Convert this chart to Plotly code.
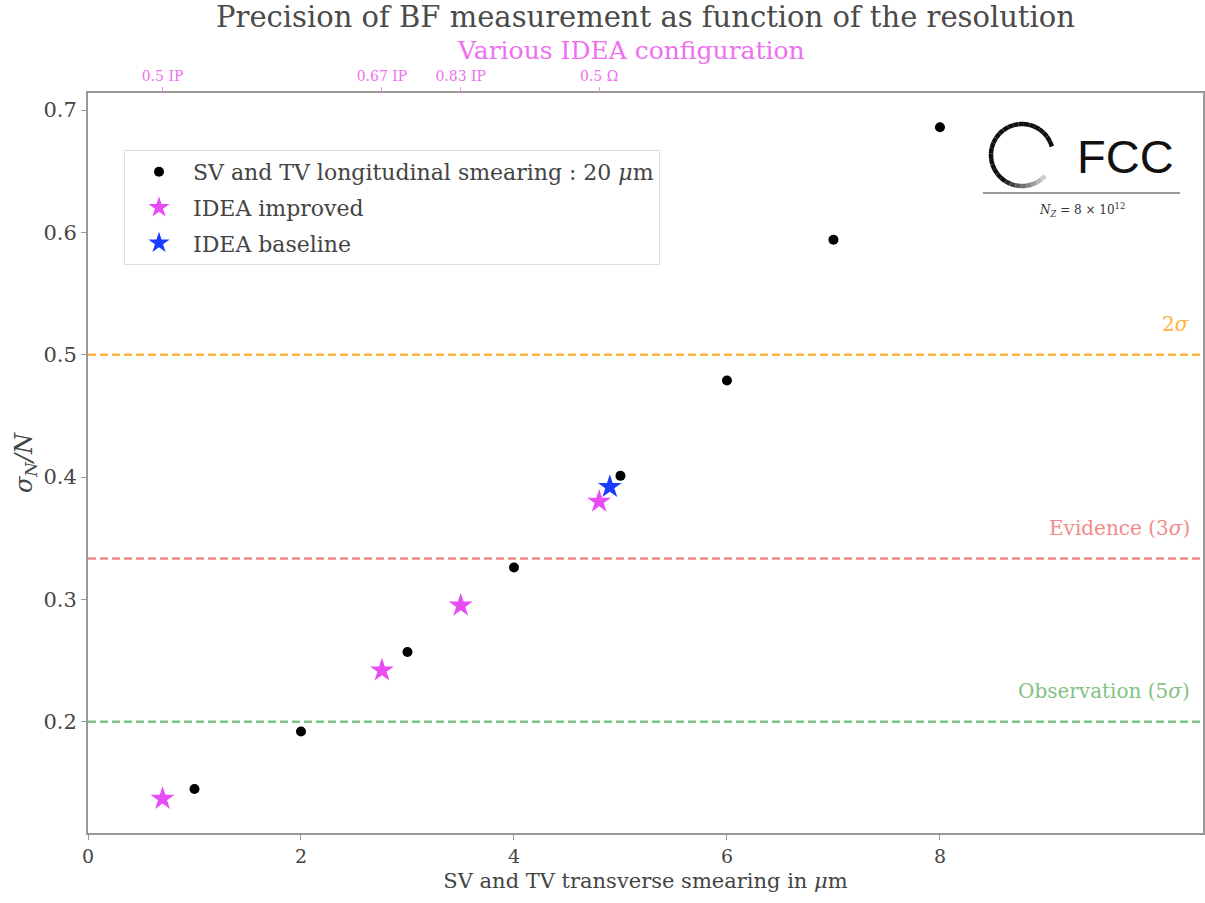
import math
import plotly.graph_objects as go

# ---------------- data ----------------
smear_x = [1, 2, 3, 4, 5, 6, 7, 8]
smear_y = [0.145, 0.192, 0.257, 0.326, 0.401, 0.479, 0.594, 0.686]

improved_x = [0.70, 2.76, 3.50, 4.80]
improved_y = [0.137, 0.242, 0.295, 0.380]

baseline_x = [4.90]
baseline_y = [0.392]

config_x = [0.70, 2.76, 3.50, 4.80]
config_labels = ["0.5 IP", "0.67 IP", "0.83 IP", "0.5 Ω"]

x_ticks = [0, 2, 4, 6, 8]
y_ticks = [0.2, 0.3, 0.4, 0.5, 0.6, 0.7]

thresholds = [0.5, 1 / 3, 0.2]
threshold_labels = ["2<i>σ</i>", "Evidence (3<i>σ</i>)", "Observation (5<i>σ</i>)"]
threshold_colors = ["#ffb340", "#f38a8a", "#82c282"]

# ---------------- layout geometry ----------------
W, H = 1205, 903
ML, MR, MT, MB = 88, 2, 93, 70
PW, PH = W - ML - MR, H - MT - MB

SERIF = "DejaVu Serif"
TXT = "#444"


def px2paper(px, py):
    return (px - ML) / PW, 1 - (py - MT) / PH


fig = go.Figure()

fig.add_trace(go.Scatter(
    x=smear_x, y=smear_y, mode="markers",
    marker=dict(color="black", size=10),
    name="SV and TV longitudinal smearing : 20 <i>μ</i>m",
    legendgroup="a",
))
fig.add_trace(go.Scatter(
    x=improved_x, y=improved_y, mode="markers",
    marker=dict(color="#e84cf5", size=18, symbol="star", line=dict(width=0)),
    name="IDEA improved", legendgroup="b",
))
fig.add_trace(go.Scatter(
    x=baseline_x, y=baseline_y, mode="markers",
    marker=dict(color="#1a3cff", size=18, symbol="star", line=dict(width=0)),
    name="IDEA baseline", legendgroup="c",
))
# invisible helper trace so the top axis is rendered
fig.add_trace(go.Scatter(
    x=config_x, y=improved_y, xaxis="x2", mode="markers",
    marker=dict(opacity=0), showlegend=False, hoverinfo="skip",
))

# threshold lines + labels
for val, lab, col in zip(thresholds, threshold_labels, threshold_colors):
    fig.add_shape(type="line", xref="paper", x0=0, x1=1, yref="y", y0=val, y1=val,
                  line=dict(color=col, width=2.5, dash="8px,4px"))
    fig.add_annotation(xref="paper", x=0.99, yref="y", y=val, text=lab,
                       showarrow=False, xanchor="right", yanchor="middle", yshift=31,
                       font=dict(family=SERIF, size=20, color=col))

# ---------------- FCC logo ----------------
cx, cy, r = 1022, 155, 31
a_start, a_end = 16, 318
n = 90
pts = []
for i in range(n + 1):
    a = math.radians(a_start + (a_end - a_start) * i / n)
    pts.append((cx + r * math.cos(a), cy - r * math.sin(a)))
nseg = 30
per = n // nseg
for s in range(nseg):
    seg = pts[s * per:(s + 1) * per + 1]
    frac = s / (nseg - 1)
    if frac < 0.72:
        col = "rgb(15,15,15)"
    else:
        t = (frac - 0.72) / 0.28
        g = int(15 + t * 190)
        col = f"rgb({g},{g},{g})"
    path = ""
    for j, (x, y) in enumerate(seg):
        xp, yp = px2paper(x, y)
        path += ("M" if j == 0 else "L") + f"{xp:.5f},{yp:.5f}"
    fig.add_shape(type="path", xref="paper", yref="paper", path=path,
                  line=dict(color=col, width=4.5))

xa, ya = px2paper(1075, 156)
fig.add_annotation(xref="paper", yref="paper", x=xa, y=ya, text="FCC", showarrow=False,
                   xanchor="left", yanchor="middle",
                   font=dict(family="Liberation Sans", size=47, color="#111"))
x0p, y0p = px2paper(983, 193)
x1p, _ = px2paper(1180, 193)
fig.add_shape(type="line", xref="paper", yref="paper", x0=x0p, x1=x1p, y0=y0p, y1=y0p,
              line=dict(color="#777", width=1.5))
xn, yn = px2paper(1082, 210)
fig.add_annotation(xref="paper", yref="paper", x=xn, y=yn,
                   text="<i>N<sub>Z</sub></i> = 8 × 10<sup>12</sup>", showarrow=False,
                   xanchor="center", yanchor="middle",
                   font=dict(family=SERIF, size=12, color="#333"))

# top-axis title placed as annotation
xt, yt = px2paper(631, 50)
fig.add_annotation(xref="paper", yref="paper", x=xt, y=yt, text="Various IDEA configuration",
                   showarrow=False, xanchor="center", yanchor="middle",
                   font=dict(family=SERIF, size=25, color="#ee70f0"))

# ---------------- layout ----------------
fig.update_layout(
    width=W, height=H,
    margin=dict(l=ML, r=MR, t=MT, b=MB, autoexpand=False),
    paper_bgcolor="white", plot_bgcolor="white",
    font=dict(family=SERIF, color=TXT),
    title=dict(text="Precision of BF measurement as function of the resolution",
               x=(ML + PW / 2) / W, xanchor="center", y=1 - 17 / H, yanchor="middle",
               font=dict(family=SERIF, size=29, color="#4a4a4a")),
    xaxis=dict(range=[0, 10.47], tickvals=x_ticks, ticktext=[str(v) for v in x_ticks],
               showgrid=False, zeroline=False, showline=True, mirror=True,
               linecolor="#999", linewidth=2, ticks="outside", ticklen=5, tickcolor="#999",
               tickfont=dict(size=19, color="#444"),
               title=dict(text="SV and TV transverse smearing in <i>μ</i>m",
                          font=dict(size=21, color="#444"), standoff=8)),
    xaxis2=dict(range=[0, 10.47], overlaying="x", side="top", tickvals=config_x,
                ticktext=config_labels, showgrid=False, zeroline=False, showline=False,
                ticks="outside", ticklen=5, tickcolor="#f08cf5",
                tickfont=dict(size=14, color="#ee70f0")),
    yaxis=dict(range=[0.109, 0.714], tickvals=y_ticks, ticktext=[f"{v:.1f}" for v in y_ticks],
               showgrid=False, zeroline=False, showline=True, mirror=True,
               linecolor="#999", linewidth=2, ticks="outside", ticklen=5, tickcolor="#999",
               tickfont=dict(size=21, color="#444"),
               title=dict(text="<i>σ<sub>N</sub>/N</i>", font=dict(size=24, color="#444"),
                          standoff=4)),
    legend=dict(x=(124 - ML) / PW, y=1 - (150 - MT) / PH, xanchor="left", yanchor="top",
                bgcolor="rgba(255,255,255,0.9)", bordercolor="#ddd", borderwidth=1,
                font=dict(family=SERIF, size=22, color="#444"), tracegroupgap=4,
                itemwidth=58),
    showlegend=True,
)

fig.write_html("out.html", config={"displayModeBar": False},
               post_script="document.body.style.margin='0';document.body.style.overflow='hidden';")
